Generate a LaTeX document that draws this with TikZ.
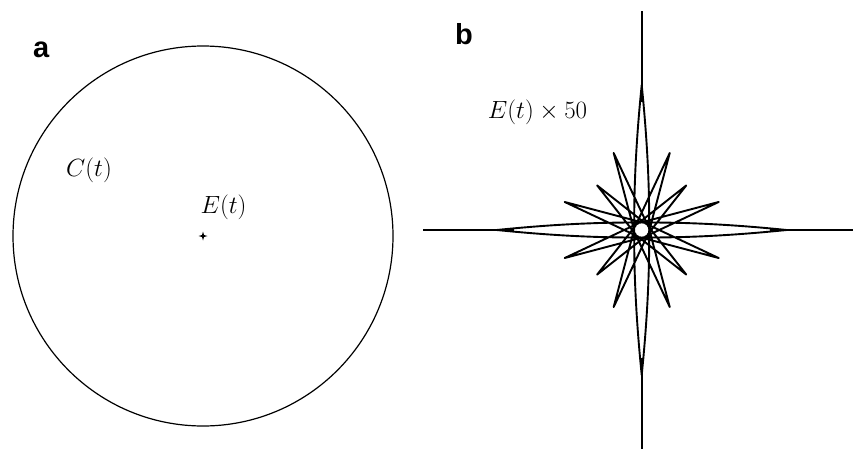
\documentclass[tikz,border=0pt]{standalone}
\usepackage{fontspec}
\newfontfamily\panelfont{Liberation Sans}
\usepackage{tikz}
\usetikzlibrary{calc}

\begin{document}
\begin{tikzpicture}[x=1pt, y=1pt, line join=round,
  orbit/.style={line width=1.9pt},
  lbl/.style={inner sep=0pt, font=\fontsize{25}{28}\selectfont},
  panel/.style={inner sep=0pt, anchor=base west,
                font=\panelfont\fontsize{29}{30}\selectfont\bfseries}]
  \useasboundingbox (0,0) rectangle (853,448);
  % panel a
  \node[panel] (labA) at (33,390) {a};
  \draw[line width=1.2pt] (203,212) circle (190);
  \fill (203,212) +(0,4.5) -- +(1,1) -- +(4.5,0) -- +(1,-1) -- +(0,-4.5)
    -- +(-1,-1) -- +(-4.5,0) -- +(-1,1) -- cycle;
  \node[lbl] (labC) at (89,278) {$C(t)$};
  \node[lbl] (labE) at (223.5,240.5) {$E(t)$};
  % panel b
  \node[panel] (labB) at (455,403) {b};
  \node[lbl] (labEb) at (537.5,335.5) {$E(t)\times 50$};
  \begin{scope}[shift={(641.7,218)}]
    \clip (-300,-218) rectangle (211.3,230);
    \coordinate (o) at (0,0);
    % short spikes: straight sides
    \foreach \j/\ang/\rad in {1/20/82, 2/45/63, 3/70/82, 5/110/82, 6/135/63,
        7/160/82, 9/200/82, 10/225/63, 11/250/82, 13/290/82, 14/315/63,
        15/340/82}{
      \coordinate (t\j) at (\ang:\rad);
      \foreach \c in {ao,bo,ai,bi}
        \coordinate (\c\j) at (t\j);}
    % long spikes: sides bending in to a thin needle
    \foreach \j/\ang in {0/0, 4/90, 8/180, 12/270}{
      \coordinate (t\j) at (\ang:145);
      \coordinate (bo\j) at ($(\ang:115)+(\ang+90:3)$);
      \coordinate (ao\j) at ($(\ang:60)+(\ang+90:8)$);
      \coordinate (bi\j) at ($(\ang:115)+(\ang-90:3)$);
      \coordinate (ai\j) at ($(\ang:60)+(\ang-90:8)$);
      \draw[orbit] (\ang:128) -- (\ang:219);}
    \draw[orbit] (t0)
      \foreach \p/\q in {0/7, 7/14, 14/5, 5/12, 12/3, 3/10, 10/1, 1/8,
                         8/15, 15/6, 6/13, 13/4, 4/11, 11/2, 2/9, 9/0}{
        .. controls (bo\p) and (ao\p) .. ($(o)!7.5pt!($(t\p)!(o)!(t\q)$)$)
        .. controls (ai\q) and (bi\q) .. (t\q)
      } -- cycle;
  \end{scope}
\end{tikzpicture}
\end{document}
